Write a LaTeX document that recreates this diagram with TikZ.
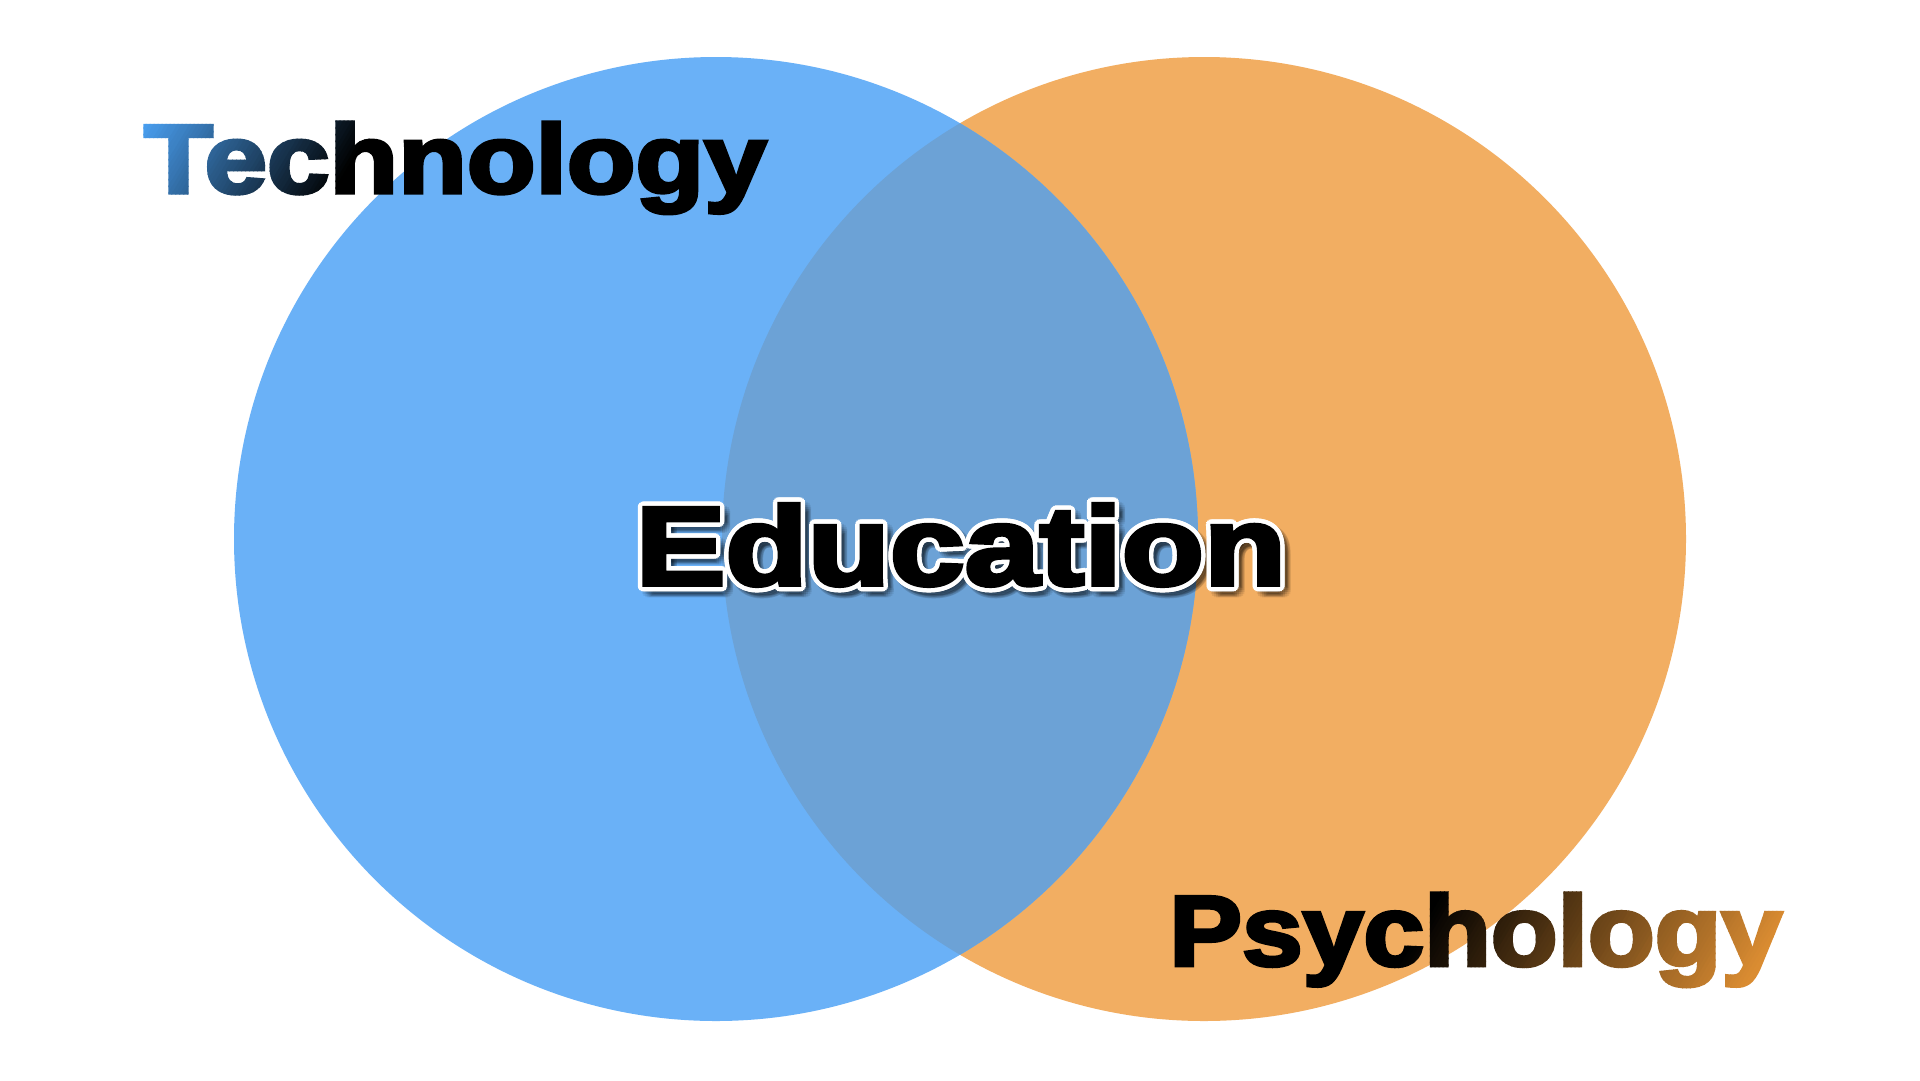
\documentclass[tikz,border=0pt]{standalone}
\usepackage{fontspec}
\newfontfamily\blk[FakeBold=3.5]{Liberation Sans Bold}
\usetikzlibrary{calc}
\definecolor{cblue}{HTML}{6AB1F7}
\definecolor{corange}{HTML}{F2AE62}
\definecolor{cmix}{HTML}{6CA2D6}
\definecolor{tblue}{HTML}{4AA0F2}
\definecolor{porange}{HTML}{DA8C32}
\newcommand\techword{{\fontsize{98}{98}\blk\scalebox{1.147}[1]{Technology}}}
\newcommand\psyword{{\fontsize{100}{100}\blk\scalebox{1.092}[1]{Psychology}}}
\newcommand\eduword{{\fontsize{112}{112}\blk\scalebox{1.2015}[1]{Education}}}
\tikzset{word/.style={inner sep=0, anchor=base west}}
\begin{document}
\begin{tikzpicture}[x=1pt,y=-1pt]
\useasboundingbox (0,0) rectangle (1920,1080);
\fill[white] (0,0) rectangle (1920,1080);
% circles
\fill[corange] (1204,539) circle (482pt);
\fill[cblue] (716,539) circle (482pt);
\begin{scope}
  \clip (716,539) circle (482pt);
  \fill[cmix] (1204,539) circle (482pt);
\end{scope}
% Technology: diagonal gradient blue -> black, drawn as clipped strips
\coordinate (tb) at (144,193);
\foreach \k in {0,...,63}{
  \pgfmathsetmacro\ua{196+4*\k}
  \pgfmathsetmacro\ub{\ua+4.8}
  \pgfmathtruncatemacro\pc{max(0,min(100,100-(\ua+2-218)/2.32))}
  \begin{scope}
    \clip (\ua-60,100) -- (\ub-60,100) -- (\ub-138,230) -- (\ua-138,230) -- cycle;
    \node[word, text=tblue!\pc!black] (tk\k) at (tb) {\techword};
  \end{scope}
}
\begin{scope}
  \clip (392,100) -- (900,100) -- (900,230) -- (314,230) -- cycle;
  \node[word, text=black] (tech) at (tb) {\techword};
\end{scope}
% Psychology: diagonal gradient black -> orange
\coordinate (pb) at (1169,965.5);
\begin{scope}
  \clip (1100,870) -- (1453.8,870) -- (1369.8,1010) -- (1100,1010) -- cycle;
  \node[word, text=black] (psy) at (pb) {\psyword};
\end{scope}
\foreach \k in {0,...,89}{
  \pgfmathsetmacro\ua{1975+4*\k}
  \pgfmathsetmacro\ub{\ua+4.8}
  \pgfmathtruncatemacro\pc{max(0,min(100,(\ua+2-1975)/3.6))}
  \begin{scope}
    \clip (\ua-522,870) -- (\ub-522,870) -- (\ub-606,1010) -- (\ua-606,1010) -- cycle;
    \node[word, text=porange!\pc!black] (pk\k) at (pb) {\psyword};
  \end{scope}
}
\begin{scope}
  \clip (1813,870) -- (1950,870) -- (1950,1010) -- (1729,1010) -- cycle;
  \node[word, text=porange] (psyend) at (pb) {\psyword};
\end{scope}
% Education
\coordinate (eb) at (635.5,585);
\foreach \i in {0,...,15}{
  \node[word, text=black, opacity=0.07] (es\i) at ($(eb)+(5,5)+(\i*22.5:5.5)$) {\eduword};
}
\foreach \i in {0,...,15}{
  \node[word, text=white] (eo\i) at ($(eb)+(\i*22.5:4.5)$) {\eduword};
}
\node[word, text=black] (edu) at (eb) {\eduword};
\end{tikzpicture}
\end{document}
